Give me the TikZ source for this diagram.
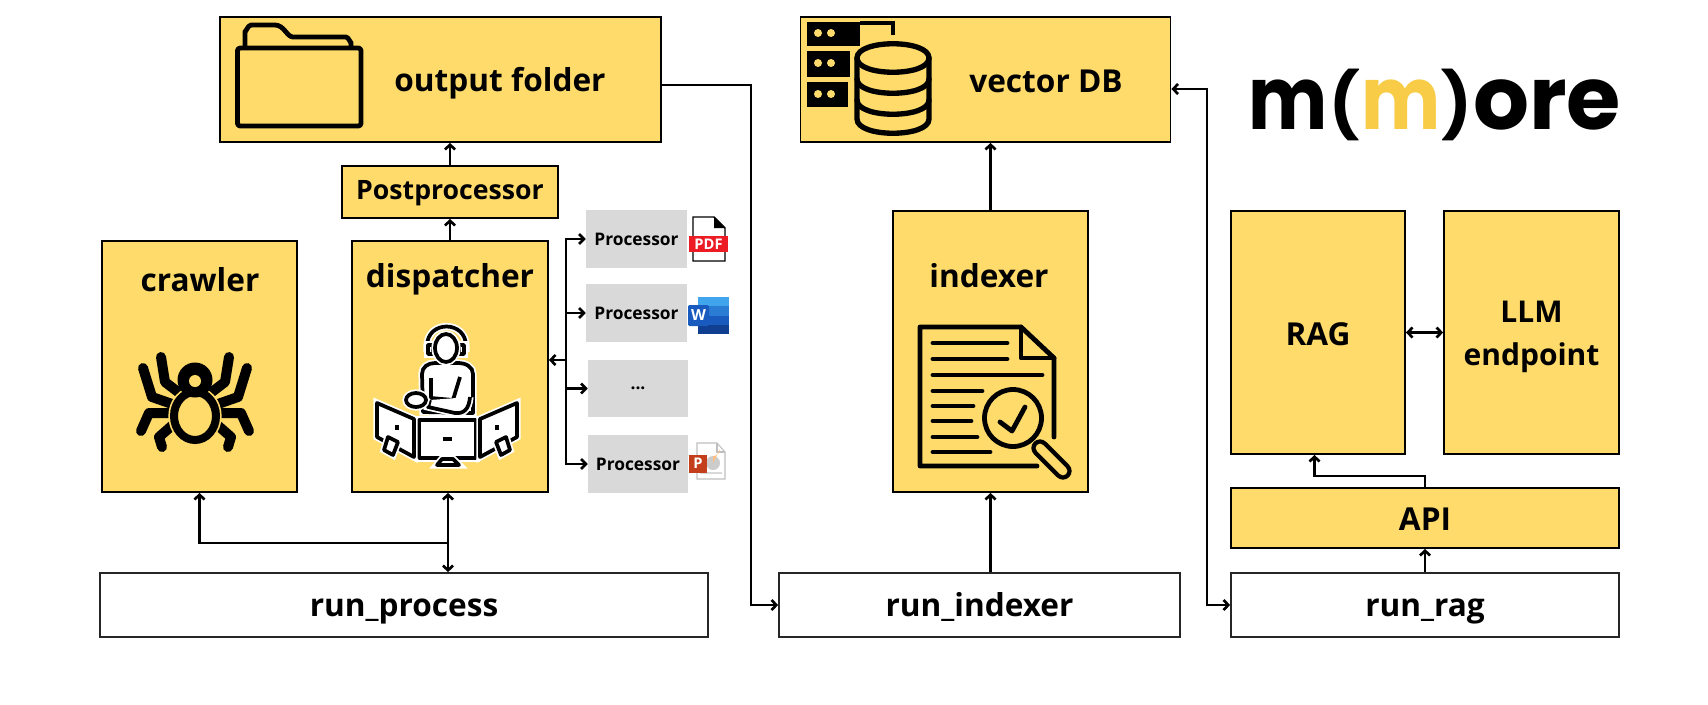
\documentclass[tikz,border=0pt]{standalone}
\usepackage{fontspec}
\setmainfont{Open Sans}
\newfontfamily\logofont{Poppins}
\usetikzlibrary{calc, positioning, arrows.meta}
\definecolor{BoxColor}{RGB}{254, 219, 106}
\definecolor{ProcColor}{RGB}{217, 217, 217}
\definecolor{LogoColor}{RGB}{248, 204, 70}
\definecolor{PdfColor}{RGB}{237, 28, 36}
\definecolor{WordA}{RGB}{65, 165, 238}
\definecolor{WordB}{RGB}{43, 124, 211}
\definecolor{WordC}{RGB}{24, 90, 189}
\definecolor{WordD}{RGB}{16, 63, 145}
\definecolor{PptColor}{RGB}{196, 62, 28}
\tikzset{
  boxsize/.style 2 args={minimum width=#1*0.75pt, minimum height=#2*0.75pt},
  mainbox/.style={draw, fill=BoxColor, line width=1.3pt, inner sep=0pt, font=\fontsize{23.7}{32}\selectfont\bfseries},
  smallbox/.style={mainbox, text height=10.6pt, text depth=0pt, font=\fontsize{20}{24}\selectfont\bfseries},
  runbox/.style={draw=black!85, fill=white, line width=1.3pt, inner sep=0pt, text height=17.6pt, text depth=0pt, font=\fontsize{23.7}{28}\selectfont\bfseries},
  procbox/.style={fill=ProcColor, inner sep=0pt, font=\fontsize{13}{15}\selectfont\bfseries},
  title/.style={inner sep=0pt, font=\fontsize{23.7}{28}\selectfont\bfseries},
  logotext/.style={inner sep=0pt, anchor=base, font=\logofont\fontsize{66}{70}\selectfont\bfseries},
  logoparen/.style={inner sep=0pt, font=\logofont\fontsize{48}{50}\selectfont\bfseries},
  link/.style={line width=2pt},
  icon/.style={line width=3.6pt, line join=round, line cap=round},
  opline/.style={line width=2.8pt, line join=round, preaction={draw=white, line width=5.4pt}},
}
\begin{document}
\begin{tikzpicture}[x=0.75pt, y=-0.75pt, >={Straight Barb[length=3.6pt,width=7.5pt]}]
\useasboundingbox (0,0) rectangle (1708,704);

\node[mainbox, boxsize={441}{125}] (output)   at (440.5,79.5) {};
\node[mainbox, boxsize={370}{125}] (vectordb) at (985.5,79.5) {};
\node[smallbox, boxsize={216}{52}] (post)     at (450,192) {Postprocessor};
\node[mainbox, boxsize={195}{251}] (crawler)  at (199.5,366.5) {};
\node[mainbox, boxsize={196}{251}] (dispatcher) at (450,366.5) {};
\node[mainbox, boxsize={195}{281}] (indexer)  at (990.5,351.5) {};
\node[mainbox, boxsize={174}{243}, text height=20.2pt, text depth=0pt] (rag) at (1318,332.5) {RAG};
\node[mainbox, boxsize={175}{243}] (llm) at (1531.5,332.5) {};
\node[mainbox, boxsize={388}{60}, text height=19.4pt, text depth=0pt] (api) at (1425,518) {API};
\node[runbox, boxsize={608}{64}]   (run_process) at (404,605) {run\_process};
\node[runbox, boxsize={401}{64}]   (run_indexer) at (979.5,605) {run\_indexer};
\node[runbox, boxsize={388}{64}]   (run_rag)  at (1425,605) {run\_rag};

\node[procbox, boxsize={101}{58}] (proc1) at (636.5,239) {Processor};
\node[procbox, boxsize={101}{58}] (proc2) at (636.5,313) {Processor};
\node[procbox, boxsize={100}{57}] (proc3) at (638,388.5) {...};
\node[procbox, boxsize={100}{58}] (proc4) at (638,464) {Processor};

\node[title] (outputtitle)  at (500,83)  {output folder};
\node[title] (vectortitle)  at (1046,81) {vector DB};
\node[title] (crawlertitle) at (200,280) {crawler};
\node[title] (dispatchertitle) at (450,279) {dispatcher};
\node[title] (indexertitle) at (989,276) {indexer};
\node[title, align=center, font=\fontsize{22.5}{32}\selectfont\bfseries] (llmtitle) at (1531.5,337) {LLM\\endpoint};

\coordinate (junction) at (448,543);
\coordinate (trunk) at (566,360);
\coordinate (folderbend) at (751,85);
\coordinate (dbbend) at (1207,89);
\coordinate (apibend) at (1314.5,476);

\draw[->, link] (post.north) -- (post.north |- output.south);
\draw[->, link] (dispatcher.north) -- (dispatcher.north |- post.south);
\draw[->, link] (indexer.north) -- (indexer.north |- vectordb.south);
\draw[->, link] (indexer.south |- run_indexer.north) -- (indexer.south);
\draw[->, link] (run_rag.north) -- (api.south);
\draw[<->, link] (rag.east) -- (llm.west);
\draw[->, link] (api.north) |- (apibend) -- (apibend |- rag.south);
\draw[<->, link] (junction |- dispatcher.south) -- (junction |- run_process.north);
\draw[->, link] (junction) -| (crawler.south);
\draw[->, link] (folderbend -| output.east) -- (folderbend) |- (run_indexer.west);
\draw[<->, link] (dbbend -| vectordb.east) -- (dbbend) |- (run_rag.west);
\draw[->, link] (trunk) -- (trunk -| dispatcher.east);
\draw[->, link] (trunk) |- (proc1.west);
\draw[->, link] (trunk) |- (proc2.west);
\draw[->, link] (trunk) |- (proc3.west);
\draw[->, link] (trunk) |- (proc4.west);

\draw[icon] (245,47) -- (245,31) to[out=-90,in=180] (251,25) -- (275,25) .. controls (284,25) and (287,37) .. (293,37) -- (346,37) to[out=0,in=-90] (351,42) -- (351,47);
\draw[icon, rounded corners=2pt] (237.5,48) rectangle (361,126);

\fill (807,22) rectangle (860,46);
\fill (807,51) rectangle (850,77);
\fill (807,82) rectangle (848,107);
\draw[line width=2.8pt] (860,23) -- (893,23) -- (893,35);
\foreach \y in {33,63,94} {
  \fill[BoxColor] (818,\y) circle[radius=4];
  \fill[BoxColor] (831,\y) circle[radius=4];
}
\draw[icon, line width=4pt, fill=BoxColor, preaction={draw=BoxColor, line width=6.5pt}] (857,58) -- (857,119) .. controls (857,138) and (929,138) .. (929,119) -- (929,58) .. controls (929,39) and (857,39) .. (857,58) -- cycle;
\draw[icon, line width=4pt] (857,58) .. controls (857,77) and (929,77) .. (929,58);
\draw[icon, line width=4pt] (857,79) .. controls (857,98) and (929,98) .. (929,79);
\draw[icon, line width=4pt] (857,100) .. controls (857,119) and (929,119) .. (929,100);

\foreach \s in {1,-1} {
  \draw[line width=7.5pt, line cap=round, line join=round]
    ({195-\s*34},357) -- ({195-\s*30},382) -- ({195-\s*13},395)
    ({195-\s*52},368) -- ({195-\s*43},397) -- ({195-\s*20},405)
    ({195-\s*54},431) -- ({195-\s*46},413) -- ({195-\s*25},413)
    ({195-\s*33},447) -- ({195-\s*36},437) -- ({195-\s*20},423);
}
\draw[line width=6pt, fill=BoxColor, preaction={draw=BoxColor, line width=8.5pt}] (195,416) ellipse[x radius=21, y radius=24];
\fill (195,380) circle[radius=17.5];
\fill[BoxColor] (195,381) circle[radius=6];

\draw[opline] (427,352) -- (427,346) .. controls (427,320) and (466,320) .. (466,346) -- (466,352);
\draw[opline, fill=white] (428,345) rectangle (433,354);
\draw[opline, fill=white] (459,345) rectangle (464,354);
\draw[opline, fill=white] (423,412) -- (422,374) .. controls (422,367) and (428,363) .. (435,363) -- (458,363) .. controls (466,363) and (473,367) .. (473,374) -- (473,413) -- cycle;
\draw[opline, fill=white] (446,348) ellipse[x radius=11, y radius=14];
\draw[line width=2.8pt, line join=round] (431,378) -- (431,398) -- (453,400) -- (460,377);
\draw[opline, fill=white] (430,400) -- (428,407) -- (455,413) .. controls (464,414) and (469,409) .. (470,397);
\draw[opline, fill=white] (416,400) ellipse[x radius=10, y radius=7];
\draw[opline, fill=white] (419,420) rectangle (476,458);
\fill (443,437) rectangle (452,441);
\draw[opline, fill=white] (442,459) -- (453,459) -- (459,465) -- (437,465) -- cycle;
\draw[opline, fill=white] (377,403) -- (414,419) -- (414,457) -- (377,437) -- cycle;
\draw[opline, fill=white] (517,403) -- (480,419) -- (480,457) -- (517,437) -- cycle;
\fill (395,425) rectangle (399,430);
\fill (495,425) rectangle (499,430);
\draw[opline, fill=white] (388,437) -- (398,442) -- (393,455) -- (384,450) -- cycle;
\draw[opline, fill=white] (506,437) -- (496,442) -- (501,455) -- (510,450) -- cycle;

\draw[icon] (1037,466) -- (920,466) -- (920,327) -- (1021,327) -- (1054,358) -- (1054,437);
\draw[icon] (1021,327) -- (1021,358) -- (1054,358);
\foreach \y/\xend in {343/1007, 359/1007, 375/1042, 391/982, 406/973, 421/971, 437/977, 452/990} {
  \draw[icon] (933,\y) -- (\xend,\y);
}
\draw[line width=13pt, line cap=round] (1040,448) -- (1063,471);
\draw[line width=6.5pt, line cap=round, BoxColor] (1040,448) -- (1063,471);
\draw[icon, fill=BoxColor] (1013,418) circle[radius=28.5];
\draw[icon] (1000,422) -- (1012,431) -- (1025,407);

\draw[line width=1.1pt, fill=white] (693,217) -- (714,217) -- (725,228) -- (725,261) -- (693,261) -- cycle;
\fill (714,217) -- (725,228) -- (714,228) -- cycle;
\node[fill=PdfColor, text=white, inner sep=0pt, boxsize={39}{16}, font=\fontsize{11}{12}\selectfont\bfseries] (pdflabel) at (708.5,244) {PDF};

\fill[WordA] (698,297) rectangle (729,306);
\fill[WordB] (698,306) rectangle (729,315.5);
\fill[WordC] (698,315.5) rectangle (729,325);
\fill[WordD] (698,325) rectangle (729,334);
\node[fill=WordC, text=white, inner sep=0pt, rounded corners=1pt, boxsize={21}{21}, font=\fontsize{11.5}{13}\selectfont\bfseries] (wordlabel) at (698.5,315.5) {W};

\draw[black!25, line width=0.8pt, fill=white] (697,443) -- (717,443) -- (725,452) -- (725,479) -- (697,479) -- cycle;
\draw[black!25, line width=0.8pt] (717,443) -- (717,452) -- (725,452);
\fill[black!20] (713,463) circle[radius=7];
\fill[orange!50] (713,463) -- (713,456) arc[start angle=90, end angle=0, radius=7] -- cycle;
\draw[black!15, line width=0.8pt] (700,473) -- (722,473);
\node[fill=PptColor, text=white, inner sep=0pt, boxsize={18}{18}, font=\fontsize{11}{13}\selectfont\bfseries] (pptlabel) at (698,463.5) {P};

\node[logotext] (logoa) at (1288,129) {\scalebox{0.85}[1]{m}};
\node[logoparen] (logob) at (1345,105) {(};
\node[logotext, text=LogoColor] (logoc) at (1401.5,129) {\scalebox{0.85}[1]{m}};
\node[logoparen] (logod) at (1457,105) {)};
\node[logotext] (logoe) at (1547,129) {ore};
\end{tikzpicture}
\end{document}
